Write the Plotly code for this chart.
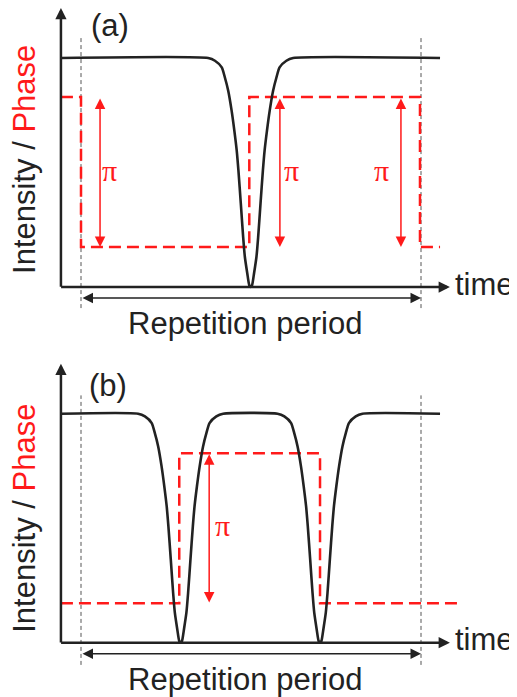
import plotly.graph_objects as go

# ---------------- data (time in units of the repetition period) ----------------
# Panel (a): one intensity dip per period, phase flips by pi at the dip
TIME_A = [-0.059,
          0.374, 0.394, 0.414, 0.423, 0.433, 0.443, 0.451, 0.458, 0.463, 0.470,
          0.477, 0.482, 0.489, 0.495, 0.499,
          0.503, 0.509, 0.516, 0.521, 0.528, 0.535, 0.540, 0.547, 0.555, 0.565,
          0.575, 0.584, 0.604, 0.624,
          1.056]
INTENSITY_A = [1.0,
               1.0, 0.988, 0.959, 0.916, 0.857, 0.770, 0.683, 0.596, 0.509, 0.365,
               0.217, 0.131, 0.060, 0.007, 0.0,
               0.007, 0.060, 0.131, 0.217, 0.365, 0.509, 0.596, 0.683, 0.770, 0.857,
               0.916, 0.959, 0.988, 1.0,
               1.0]
PHASE_TIME_A = [-0.059, 0.0, 0.0, 0.495, 0.495, 0.997, 0.997, 1.056]
PHASE_A = [0.83, 0.83, 0.175, 0.175, 0.83, 0.83, 0.175, 0.175]

# Panel (b): two dips per period, phase flips at each dip
TIME_B = [-0.059,
          0.168, 0.188, 0.208, 0.217, 0.227, 0.237, 0.245, 0.252, 0.257, 0.264,
          0.271, 0.276, 0.283, 0.289, 0.293,
          0.297, 0.303, 0.310, 0.315, 0.322, 0.329, 0.334, 0.341, 0.349, 0.359,
          0.369, 0.378, 0.398, 0.418,
          0.578, 0.598, 0.618, 0.627, 0.637, 0.647, 0.655, 0.662, 0.667, 0.674,
          0.681, 0.686, 0.693, 0.699, 0.703,
          0.707, 0.713, 0.720, 0.725, 0.732, 0.739, 0.744, 0.751, 0.759, 0.769,
          0.779, 0.788, 0.808, 0.828,
          1.056]
INTENSITY_B = [1.0,
               1.0, 0.988, 0.959, 0.916, 0.857, 0.770, 0.683, 0.596, 0.509, 0.365,
               0.217, 0.131, 0.060, 0.007, 0.0,
               0.007, 0.060, 0.131, 0.217, 0.365, 0.509, 0.596, 0.683, 0.770, 0.857,
               0.916, 0.959, 0.988, 1.0,
               1.0, 0.988, 0.959, 0.916, 0.857, 0.770, 0.683, 0.596, 0.509, 0.365,
               0.217, 0.131, 0.060, 0.007, 0.0,
               0.007, 0.060, 0.131, 0.217, 0.365, 0.509, 0.596, 0.683, 0.770, 0.857,
               0.916, 0.959, 0.988, 1.0,
               1.0]
PHASE_TIME_B = [-0.059, 0.289, 0.289, 0.703, 0.703, 1.115]
PHASE_B = [0.172, 0.172, 0.827, 0.827, 0.172, 0.172]

PHASE_LOW = 0.175
PHASE_HIGH = 0.83
PERIOD_START, PERIOD_END = 0.0, 1.0
AXIS_ORIGIN = -0.059

PI_ARROW_X_A = [0.056, 0.585, 0.941]
PI_LABEL_X_A = [0.085, 0.618, 0.885]
PI_ARROW_X_B = [0.377]
PI_LABEL_X_B = [0.415]

PANEL_LABELS = ["(a)", "(b)"]
X_LABEL = "time"
PERIOD_LABEL = "Repetition period"
PI_LABEL = "π"

# ---------------- styles ----------------
BLACK = "#222222"
RED = "#ff1a1a"
GRAY = "#555555"
FONT = "Liberation Sans, Arial, sans-serif"
FS = 31

fig = go.Figure()

panels = [
    dict(xa="x", ya="y", t=TIME_A, i=INTENSITY_A, pt=PHASE_TIME_A, p=PHASE_A,
         pix=PI_ARROW_X_A, pil=PI_LABEL_X_A, label=PANEL_LABELS[0],
         ytop=1.218, ylab=0.559, lab_y=1.144, lab_x=0.085, vtop=1.087, vbot=-0.092),
    dict(xa="x2", ya="y2", t=TIME_B, i=INTENSITY_B, pt=PHASE_TIME_B, p=PHASE_B,
         pix=PI_ARROW_X_B, pil=PI_LABEL_X_B, label=PANEL_LABELS[1],
         ytop=1.218, ylab=0.545, lab_y=1.125, lab_x=0.079, vtop=1.08, vbot=-0.097),
]

annotations = []
for pn in panels:
    xa, ya = pn["xa"], pn["ya"]
    # gray dashed period markers
    for xe in (PERIOD_START, PERIOD_END):
        fig.add_trace(go.Scatter(x=[xe, xe], y=[pn["vbot"], pn["vtop"]], mode="lines",
                                 line=dict(color=GRAY, width=1, dash="4px,3px"),
                                 xaxis=xa, yaxis=ya, showlegend=False, hoverinfo="skip"))
    # phase (red dashed)
    fig.add_trace(go.Scatter(x=pn["pt"], y=pn["p"], mode="lines",
                             line=dict(color=RED, width=2.5, dash="12px,6px"),
                             xaxis=xa, yaxis=ya, showlegend=False, hoverinfo="skip"))
    # intensity (black)
    fig.add_trace(go.Scatter(x=pn["t"], y=pn["i"], mode="lines",
                             line=dict(color=BLACK, width=2.6, shape="spline", smoothing=0.6),
                             xaxis=xa, yaxis=ya, showlegend=False, hoverinfo="skip",
                             cliponaxis=False))

    common = dict(xref=xa, yref=ya, axref=xa, ayref=ya, text="", showarrow=True)
    # y axis arrow
    annotations.append(dict(common, x=AXIS_ORIGIN, y=pn["ytop"], ax=AXIS_ORIGIN, ay=-0.006,
                            arrowhead=2, arrowsize=0.9, arrowwidth=2.5, arrowcolor=BLACK))
    # x axis arrow
    annotations.append(dict(common, x=1.085, y=0.0, ax=AXIS_ORIGIN - 0.004, ay=0.0,
                            arrowhead=2, arrowsize=0.9, arrowwidth=2.5, arrowcolor=BLACK))
    # repetition period double arrow
    annotations.append(dict(common, x=PERIOD_END, y=-0.048, ax=PERIOD_START, ay=-0.048,
                            arrowhead=2, startarrowhead=2, arrowside="end+start",
                            arrowsize=1.4, startarrowsize=1.4, arrowwidth=1.5,
                            arrowcolor=BLACK))
    # pi arrows
    for xp in pn["pix"]:
        annotations.append(dict(common, x=xp, y=PHASE_LOW, ax=xp, ay=PHASE_HIGH,
                                arrowhead=2, startarrowhead=2, arrowside="end+start",
                                arrowsize=1.4, startarrowsize=1.4, arrowwidth=1.5,
                                arrowcolor=RED))
    for xl in pn["pil"]:
        annotations.append(dict(xref=xa, yref=ya, x=xl, y=0.51, text=PI_LABEL, showarrow=False,
                                font=dict(family="Liberation Serif, serif", size=30, color=RED)))
    # texts
    annotations.append(dict(xref=xa, yref=ya, x=pn["lab_x"], y=pn["lab_y"], text=pn["label"],
                            showarrow=False, font=dict(family=FONT, size=FS, color=BLACK)))
    annotations.append(dict(xref=xa, yref=ya, x=1.094, y=0.012, text=X_LABEL, xanchor="left",
                            showarrow=False, font=dict(family=FONT, size=FS, color=BLACK)))
    annotations.append(dict(xref=xa, yref=ya, x=0.482, y=-0.16, text=PERIOD_LABEL,
                            showarrow=False, font=dict(family=FONT, size=FS, color=BLACK)))
    annotations.append(dict(xref=xa, yref=ya, x=-0.165, y=pn["ylab"], textangle=-90,
                            text="Intensity / <span style='color:" + RED + "'>Phase</span>",
                            showarrow=False, font=dict(family=FONT, size=FS, color=BLACK)))

# The page body has an 8 px margin, so the figure is 8 px smaller on each axis
# and the ranges are chosen so the marks land where the reference has them.
W, H = 509, 689
X0 = 73  # figure px of time 0
XR = [-X0 / 340, (W - X0) / 340]
fig.update_layout(
    width=W, height=H, autosize=False,
    margin=dict(l=0, r=0, t=0, b=0),
    paper_bgcolor="white", plot_bgcolor="white",
    showlegend=False,
    xaxis=dict(domain=[0, 1], range=XR, visible=False, fixedrange=True),
    yaxis=dict(domain=[349 / 689, 1], range=[-61 / 229, 279 / 229], visible=False,
               fixedrange=True),
    xaxis2=dict(domain=[0, 1], range=XR, visible=False, anchor="y2", fixedrange=True),
    yaxis2=dict(domain=[0, 349 / 689], range=[-54.3 / 229, 294.7 / 229], visible=False,
                anchor="x2", fixedrange=True),
    annotations=annotations,
)

fig.write_html("out.html")
